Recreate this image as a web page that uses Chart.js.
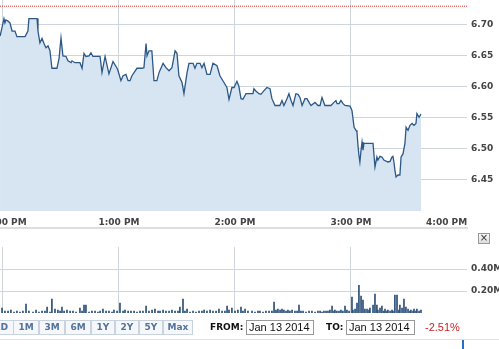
<!DOCTYPE html>
<html>
<head>
<meta charset="utf-8">
<script src="https://cdn.jsdelivr.net/npm/chart.js@4.4.1/dist/chart.umd.min.js"></script>
<style>
  body { margin: 0; width: 499px; height: 349px; overflow: hidden; background: #fff; position: relative; }
  canvas { position: absolute; left: 0; }
  #priceChart { top: 0; }
  #volChart { top: 230px; }
  .sep { position: absolute; left: 0; top: 227px; width: 468px; height: 2px; background: #dedede; }
  .close { position: absolute; left: 478px; top: 233px; width: 10px; height: 9px; border: 1px solid #9a9a9a;
    background: linear-gradient(#fafafa, #dcdcdc); font: 10px "DejaVu Sans"; line-height: 8px; text-align: center; color: #333; }
  .btn { position: absolute; top: 320px; height: 13px; border: 1px solid #c9d3de; background: #f5f7fa;
    font: bold 9px "DejaVu Sans"; color: #52739a; line-height: 13px; text-align: center; box-sizing: content-box; }
  .lbl { position: absolute; top: 320px; font: bold 9px "DejaVu Sans"; color: #111; line-height: 15px; }
  .inp { position: absolute; top: 320px; height: 13px; border: 1px solid #999; font: 11px "Liberation Sans";
    line-height: 13px; color: #111; padding-left: 2px; }
  .chg { position: absolute; left: 425px; top: 320px; font: 11px "Liberation Sans"; color: #cc2020; line-height: 15px; }
  .bottomline { position: absolute; left: 0; top: 339px; width: 499px; height: 1px; background: #e2e2e2; }
  .bluebar { position: absolute; left: 462px; top: 340px; width: 2px; height: 9px; background: #2a6cc8; }
</style>
</head>
<body>
<canvas id="priceChart" width="499" height="228"></canvas>
<div class="sep"></div>
<div class="close">&times;</div>
<canvas id="volChart" width="499" height="90"></canvas>

<span class="btn" style="left:-12px;width:24px">1D</span>
<span class="btn" style="left:13px;width:24px">1M</span>
<span class="btn" style="left:39px;width:24px">3M</span>
<span class="btn" style="left:65px;width:24px">6M</span>
<span class="btn" style="left:91px;width:22px">1Y</span>
<span class="btn" style="left:115px;width:22px">2Y</span>
<span class="btn" style="left:139px;width:22px">5Y</span>
<span class="btn" style="left:163px;width:28px">Max</span>
<span class="lbl" style="left:210px">FROM:</span>
<span class="inp" style="left:246px;width:64px">Jan 13 2014</span>
<span class="lbl" style="left:326px">TO:</span>
<span class="inp" style="left:346px;width:65px">Jan 13 2014</span>
<span class="chg">-2.51%</span>
<div class="bottomline"></div>
<div class="bluebar"></div>

<script>
// minutes after 12:00 PM, Jan 13 2014
const times = [
  -1.5, 0.5, 1, 1.5, 2.6, 3.6, 4.7, 6.2, 7.2, 11.4,
  12.9, 13.4, 17.6, 18.1, 19.1, 20.2, 21.2, 22.2, 23.3, 24.3,
  25.3, 27.9, 29, 30, 31, 32.6, 33.6, 35.2, 35.7, 37.2,
  39.8, 40.9, 41.9, 42.9, 44.5, 45.5, 46.5, 50.2, 51.2, 52.8,
  54.8, 56.9, 59, 59.5, 61, 62.1, 63.6, 64.7, 65.7, 66.7,
  69.3, 71.9, 72.9, 74, 74.5, 75.5, 77, 78.1, 79.6, 80.7,
  81.7, 82.8, 84.3, 85.9, 87.4, 89, 90, 91, 92.6, 93.6,
  95.2, 96.2, 98.3, 99.3, 100.3, 101.9, 102.9, 104, 105.5, 107.1,
  108.6, 110.7, 112.2, 114.3, 115.8, 116.9, 118.4, 119.5, 121, 122,
  123.1, 124.1, 125.7, 129.3, 129.8, 130.9, 132.4, 133.4, 135, 136.5,
  138.1, 139.1, 140.7, 143.2, 144.3, 145.3, 146.9, 147.9, 149, 150,
  151.5, 152.6, 153.6, 154.7, 156.2, 157.2, 158.3, 159.3, 161.4, 162.9,
  164, 165, 166.5, 169.6, 171.2, 172.2, 172.8, 173.8, 174.8, 175.9,
  176.9, 179.5, 180.5, 181.6, 182.6, 183.1, 183.6, 184.1, 184.6, 185.2,
  185.7, 186.2, 186.7, 187.8, 191.4, 192.4, 193.4, 193.9, 195, 196,
  197, 199.1, 200.2, 201.2, 201.7, 202.2, 202.7, 203.3, 204.3, 205.3,
  205.9, 206.9, 207.9, 208.5, 209.5, 210.5, 211.6, 212.6, 213.6, 214.1,
  215.2, 216.2
];
const prices = [
  6.682, 6.710, 6.703, 6.708, 6.706, 6.703, 6.690, 6.690, 6.681, 6.681,
  6.690, 6.710, 6.710, 6.690, 6.671, 6.678, 6.670, 6.663, 6.666, 6.658,
  6.630, 6.630, 6.646, 6.679, 6.650, 6.649, 6.642, 6.639, 6.642, 6.639,
  6.639, 6.630, 6.654, 6.649, 6.650, 6.655, 6.649, 6.649, 6.623, 6.649,
  6.621, 6.641, 6.630, 6.626, 6.610, 6.618, 6.620, 6.610, 6.610, 6.618,
  6.630, 6.630, 6.631, 6.670, 6.650, 6.658, 6.658, 6.610, 6.610, 6.623,
  6.630, 6.638, 6.631, 6.626, 6.631, 6.658, 6.654, 6.618, 6.607, 6.589,
  6.623, 6.638, 6.638, 6.630, 6.638, 6.638, 6.631, 6.638, 6.620, 6.620,
  6.638, 6.634, 6.618, 6.607, 6.599, 6.580, 6.599, 6.599, 6.609, 6.601,
  6.581, 6.580, 6.589, 6.589, 6.597, 6.593, 6.589, 6.588, 6.594, 6.599,
  6.597, 6.581, 6.570, 6.570, 6.578, 6.570, 6.581, 6.589, 6.578, 6.570,
  6.589, 6.588, 6.583, 6.570, 6.581, 6.581, 6.575, 6.570, 6.575, 6.570,
  6.570, 6.583, 6.570, 6.570, 6.575, 6.578, 6.573, 6.573, 6.578, 6.573,
  6.570, 6.569, 6.562, 6.535, 6.530, 6.527, 6.506, 6.490, 6.479, 6.498,
  6.511, 6.498, 6.509, 6.509, 6.509, 6.471, 6.487, 6.482, 6.488, 6.487,
  6.482, 6.479, 6.480, 6.487, 6.488, 6.479, 6.466, 6.455, 6.458, 6.458,
  6.487, 6.492, 6.509, 6.535, 6.530, 6.538, 6.541, 6.538, 6.541, 6.557,
  6.551, 6.556
];
const prevClose = 6.73;

// volume bars, thousands of shares
const volTimes = [
  -0.5, 1.0, 2.6, 4.1, 5.7, 7.2, 8.8, 10.3, 11.9, 13.4,
  15.5, 17.1, 18.6, 20.2, 21.7, 22.8, 24.3, 25.3, 26.9, 28.4,
  29.5, 30.5, 31.6, 33.1, 34.7, 36.2, 37.8, 39.8, 40.9, 41.9,
  42.9, 44.5, 46.0, 47.6, 49.1, 50.2, 51.7, 53.3, 54.8, 56.4,
  57.4, 59.0, 60.5, 62.1, 63.1, 64.7, 66.2, 67.8, 69.3, 70.9,
  72.4, 74.0, 75.5, 77.1, 78.6, 80.2, 81.2, 82.8, 84.3, 85.9,
  87.4, 89.0, 90.5, 91.5, 93.1, 94.1, 95.2, 96.7, 98.3, 99.8,
  101.4, 102.9, 104.0, 105.5, 107.1, 108.6, 110.2, 111.7, 113.3, 114.8,
  115.9, 116.9, 118.4, 120.0, 121.5, 123.1, 124.1, 125.2, 126.7, 128.8,
  130.3, 131.9, 132.9, 134.5, 136.0, 137.6, 139.1, 140.2, 141.2, 142.2,
  143.3, 144.3, 145.3, 146.4, 147.4, 148.4, 149.5, 151.0, 152.1, 153.1,
  154.1, 155.2, 156.7, 158.3, 159.8, 161.4, 162.9, 164.0, 165.0, 166.0,
  167.1, 168.1, 169.1, 170.2, 171.2, 171.7, 172.7, 173.8, 174.8, 175.8,
  176.9, 177.9, 179.0, 180.5, 181.0, 182.1, 183.1, 184.1, 185.2, 186.2,
  187.2, 188.3, 189.3, 189.8, 191.4, 192.4, 193.4, 193.9, 195.0, 196.0,
  197.0, 197.6, 198.6, 199.1, 200.2, 201.2, 201.7, 202.7, 203.8, 204.8,
  205.3, 206.4, 207.4, 208.4, 209.5, 210.5, 211.0, 212.1, 212.6, 213.6,
  214.1, 215.2, 216.2
];
const volK = [
  45, 18, 18, 27, 9, 18, 9, 18, 81, 18,
  9, 27, 9, 18, 18, 54, 9, 126, 36, 27,
  18, 54, 18, 27, 18, 18, 9, 45, 18, 72,
  72, 9, 18, 18, 9, 18, 36, 18, 18, 9,
  27, 18, 90, 18, 27, 18, 18, 18, 9, 18,
  18, 63, 18, 27, 36, 18, 18, 27, 18, 18,
  27, 18, 18, 54, 126, 18, 36, 9, 18, 9,
  18, 18, 27, 18, 27, 18, 18, 36, 18, 18,
  63, 27, 45, 18, 27, 54, 18, 36, 18, 18,
  9, 18, 18, 9, 18, 18, 18, 99, 27, 36,
  27, 36, 27, 18, 27, 18, 27, 18, 18, 72,
  18, 18, 9, 18, 18, 9, 18, 18, 9, 18,
  18, 18, 27, 63, 18, 27, 18, 18, 27, 18,
  63, 27, 18, 144, 27, 36, 90, 252, 153, 117,
  36, 36, 27, 45, 72, 171, 72, 27, 45, 63,
  18, 36, 18, 27, 18, 27, 18, 162, 162, 27,
  72, 45, 126, 54, 36, 18, 27, 18, 36, 18,
  36, 18, 27
];

// axis ticks
const hourTicks = [0, 60, 120, 180, 240];
const hourLabels = ['12:00 PM', '1:00 PM', '2:00 PM', '3:00 PM', '4:00 PM'];
const priceTicks = [6.45, 6.50, 6.55, 6.60, 6.65, 6.70];
const volTicks = [200, 400];
const volLabels = ['0.20M', '0.40M'];

const xMin = -1.55, xMax = 240;
const gridColor = '#cfd5dc';

Chart.defaults.font.family = 'DejaVu Sans';
Chart.defaults.font.size = 9;
Chart.defaults.font.weight = 'bold';
Chart.defaults.color = '#444';

// right-hand value axis with a fixed width and no label overhang
function fixedWidth(w) {
    return function (scale) {
        scale.width = w;
        scale.paddingTop = 0;
        scale.paddingBottom = 0;
    };
}

function timeAxis(showLabels) {
    return {
        type: 'linear',
        min: xMin,
        max: xMax,
        offset: false,
        afterBuildTicks: function (s) { s.ticks = hourTicks.map(v => ({ value: v })); },
        afterFit: function (s) {
            s.paddingLeft = 0;
            s.paddingRight = 0;
            s.height = showLabels ? 17 : 0;
        },
        border: { display: false },
        grid: {
            offset: false,
            drawTicks: false,
            color: ctx => (ctx.tick && ctx.tick.value === 240) ? 'rgba(0,0,0,0)' : gridColor
        },
        ticks: {
            display: showLabels,
            autoSkip: false,
            maxRotation: 0,
            padding: 6,
            // last label pushed left so it stays inside the frame
            callback: v => {
                const i = hourTicks.indexOf(v);
                if (i < 0) return '';
                return v === 240 ? hourLabels[i] + '\u00a0'.repeat(13) : hourLabels[i];
            }
        }
    };
}

// price chart
const priceCtx = document.getElementById('priceChart').getContext('2d');
const priceChart = new Chart(priceCtx, {
    type: 'line',
    data: {
        datasets: [{
            data: times.map((t, i) => ({ x: t, y: prices[i] })),
            borderColor: '#2d5886',
            borderWidth: 1.3,
            backgroundColor: '#d6e5f1',
            fill: 'start',
            pointRadius: 0,
            tension: 0
        }, {
            data: [{ x: xMin, y: prevClose }, { x: xMax, y: prevClose }],
            borderColor: '#cc3b33',
            borderWidth: 1,
            borderDash: [1, 1],
            pointRadius: 0,
            fill: false
        }]
    },
    options: {
        responsive: false,
        animation: false,
        layout: { padding: 0 },
        plugins: { legend: { display: false }, tooltip: { enabled: false } },
        scales: {
            x: timeAxis(true),
            y: {
                position: 'right',
                min: 6.40,
                max: 6.74,
                afterBuildTicks: function (s) { s.ticks = priceTicks.map(v => ({ value: v })); },
                afterFit: fixedWidth(32),
                border: { display: false },
                grid: { drawTicks: false, color: gridColor },
                ticks: { padding: 4, callback: v => v.toFixed(2) }
            }
        }
    }
});

// volume chart
const volCtx = document.getElementById('volChart').getContext('2d');
const volChart = new Chart(volCtx, {
    type: 'bar',
    data: {
        datasets: [{
            data: volTimes.map((t, i) => ({ x: t, y: volK[i] })),
            backgroundColor: '#2b4f78',
            barThickness: 1
        }]
    },
    options: {
        responsive: false,
        animation: false,
        layout: { padding: { top: 17, bottom: 7, left: 0, right: 0 } },
        plugins: { legend: { display: false }, tooltip: { enabled: false } },
        scales: {
            x: timeAxis(false),
            y: {
                position: 'right',
                min: 0,
                max: 600,
                afterBuildTicks: function (s) { s.ticks = volTicks.map(v => ({ value: v })); },
                afterFit: fixedWidth(32),
                border: { display: false },
                grid: { drawTicks: false, color: gridColor },
                ticks: { padding: 4, callback: v => volLabels[volTicks.indexOf(v)] }
            }
        }
    }
});
</script>
</body>
</html>
